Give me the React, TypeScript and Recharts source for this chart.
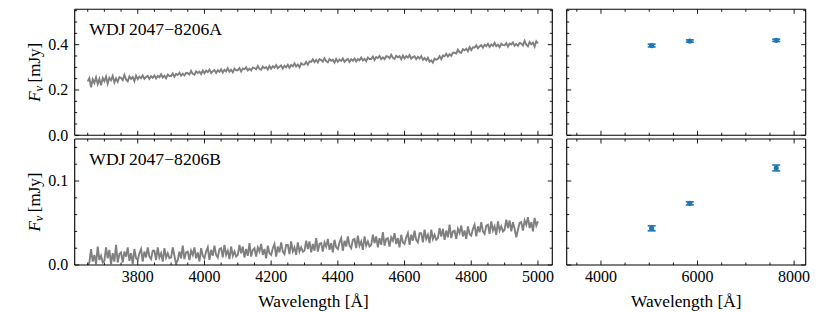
import React from 'react';
import { ComposedChart, Line, Scatter, ErrorBar, XAxis, YAxis } from 'recharts';

// ---------------- data ----------------
const WL_START = 3650;
const WL_STEP = 5;

const FLUX_A = [
  0.238, 0.252, 0.212, 0.247, 0.231, 0.256, 0.226, 0.249, 0.221, 0.253,
  0.239, 0.259, 0.228, 0.254, 0.243, 0.262, 0.233, 0.251, 0.236, 0.257,
  0.253, 0.243, 0.266, 0.246, 0.238, 0.260, 0.249, 0.257, 0.239, 0.263,
  0.248, 0.259, 0.252, 0.264, 0.249, 0.257, 0.262, 0.249, 0.261, 0.254,
  0.264, 0.251, 0.262, 0.256, 0.269, 0.255, 0.263, 0.252, 0.268, 0.262,
  0.262, 0.273, 0.258, 0.271, 0.266, 0.276, 0.263, 0.272, 0.264, 0.276,
  0.274, 0.268, 0.284, 0.271, 0.267, 0.282, 0.275, 0.281, 0.270, 0.286,
  0.274, 0.285, 0.279, 0.290, 0.275, 0.283, 0.288, 0.275, 0.287, 0.280,
  0.291, 0.277, 0.289, 0.282, 0.296, 0.281, 0.289, 0.278, 0.294, 0.287,
  0.287, 0.297, 0.282, 0.295, 0.291, 0.300, 0.286, 0.294, 0.286, 0.299,
  0.297, 0.291, 0.306, 0.293, 0.289, 0.303, 0.296, 0.301, 0.290, 0.306,
  0.294, 0.305, 0.298, 0.310, 0.296, 0.302, 0.308, 0.295, 0.307, 0.300,
  0.311, 0.298, 0.310, 0.304, 0.317, 0.304, 0.312, 0.300, 0.318, 0.312,
  0.312, 0.324, 0.311, 0.326, 0.324, 0.335, 0.323, 0.333, 0.322, 0.336,
  0.332, 0.325, 0.340, 0.327, 0.322, 0.336, 0.329, 0.334, 0.321, 0.337,
  0.324, 0.334, 0.328, 0.339, 0.324, 0.332, 0.337, 0.324, 0.336, 0.329,
  0.339, 0.326, 0.337, 0.331, 0.343, 0.330, 0.337, 0.327, 0.343, 0.337,
  0.337, 0.347, 0.332, 0.345, 0.341, 0.350, 0.336, 0.344, 0.336, 0.349,
  0.347, 0.340, 0.355, 0.342, 0.337, 0.351, 0.344, 0.349, 0.336, 0.352,
  0.339, 0.349, 0.343, 0.354, 0.338, 0.345, 0.349, 0.336, 0.347, 0.339,
  0.349, 0.333, 0.341, 0.331, 0.342, 0.325, 0.331, 0.321, 0.338, 0.334,
  0.337, 0.349, 0.336, 0.352, 0.349, 0.360, 0.348, 0.358, 0.350, 0.364,
  0.364, 0.361, 0.378, 0.367, 0.364, 0.380, 0.375, 0.382, 0.371, 0.389,
  0.376, 0.388, 0.387, 0.397, 0.384, 0.392, 0.398, 0.387, 0.400, 0.393,
  0.404, 0.390, 0.401, 0.394, 0.408, 0.393, 0.400, 0.389, 0.404, 0.398,
  0.397, 0.407, 0.391, 0.405, 0.401, 0.410, 0.395, 0.403, 0.395, 0.408,
  0.405, 0.396, 0.417, 0.400, 0.393, 0.412, 0.402, 0.409, 0.392, 0.415,
  0.406,
];

const FLUX_B = [
  0.000, 0.003, 0.019, 0.004, 0.012, 0.001, 0.022, 0.006, 0.011, 0.003,
  0.005, 0.021, 0.008, 0.018, 0.001, 0.014, 0.004, 0.024, 0.003, 0.013,
  0.015, 0.003, 0.016, 0.010, 0.021, 0.005, 0.014, 0.001, 0.019, 0.008,
  0.006, 0.014, 0.019, 0.004, 0.016, 0.009, 0.021, 0.010, 0.007, 0.017,
  0.017, 0.006, 0.021, 0.009, 0.014, 0.004, 0.020, 0.009, 0.014, 0.008,
  0.009, 0.021, 0.011, 0.001, 0.006, 0.016, 0.008, 0.023, 0.007, 0.015,
  0.016, 0.006, 0.017, 0.012, 0.021, 0.008, 0.015, 0.004, 0.020, 0.011,
  0.008, 0.016, 0.021, 0.006, 0.018, 0.011, 0.023, 0.012, 0.009, 0.019,
  0.020, 0.009, 0.024, 0.012, 0.017, 0.007, 0.022, 0.011, 0.016, 0.010,
  0.012, 0.024, 0.014, 0.022, 0.009, 0.019, 0.011, 0.026, 0.010, 0.018,
  0.020, 0.010, 0.021, 0.016, 0.025, 0.012, 0.019, 0.008, 0.023, 0.014,
  0.012, 0.020, 0.025, 0.010, 0.022, 0.015, 0.027, 0.016, 0.013, 0.024,
  0.024, 0.013, 0.028, 0.016, 0.021, 0.012, 0.027, 0.016, 0.021, 0.016,
  0.017, 0.029, 0.019, 0.028, 0.015, 0.025, 0.017, 0.032, 0.016, 0.025,
  0.026, 0.016, 0.027, 0.022, 0.031, 0.018, 0.026, 0.015, 0.030, 0.021,
  0.019, 0.027, 0.032, 0.017, 0.029, 0.022, 0.034, 0.023, 0.020, 0.030,
  0.031, 0.020, 0.035, 0.023, 0.028, 0.018, 0.034, 0.023, 0.028, 0.022,
  0.024, 0.036, 0.026, 0.034, 0.021, 0.032, 0.024, 0.039, 0.023, 0.031,
  0.032, 0.022, 0.033, 0.029, 0.038, 0.025, 0.032, 0.021, 0.036, 0.027,
  0.025, 0.033, 0.038, 0.024, 0.036, 0.029, 0.041, 0.030, 0.027, 0.038,
  0.038, 0.027, 0.042, 0.031, 0.036, 0.026, 0.042, 0.031, 0.036, 0.030,
  0.032, 0.044, 0.034, 0.043, 0.030, 0.041, 0.033, 0.048, 0.032, 0.040,
  0.041, 0.031, 0.043, 0.038, 0.047, 0.034, 0.041, 0.031, 0.046, 0.037,
  0.035, 0.043, 0.048, 0.034, 0.046, 0.039, 0.051, 0.040, 0.037, 0.047,
  0.048, 0.037, 0.052, 0.041, 0.046, 0.036, 0.052, 0.041, 0.046, 0.040,
  0.042, 0.054, 0.044, 0.053, 0.040, 0.051, 0.043, 0.033, 0.042, 0.050,
  0.051, 0.041, 0.053, 0.048, 0.057, 0.044, 0.051, 0.040, 0.056, 0.047,
  0.052,
];

const PHOT_WL = [5050, 5840, 7630];
const PHOT_A = [0.396, 0.416, 0.419];
const PHOT_A_ERR = [0.006, 0.005, 0.005];
const PHOT_B = [0.0437, 0.0734, 0.1155];
const PHOT_B_ERR = [0.003, 0.0018, 0.0035];

const TITLE_A = 'WDJ\u20092047\u22128206A';
const TITLE_B = 'WDJ\u20092047\u22128206B';

// ---------------- axes ----------------
const range = (a: number, b: number, s: number) => {
  const out: number[] = [];
  for (let i = 0; a + i * s <= b + 1e-9; i++) out.push(Math.round((a + i * s) * 1e6) / 1e6);
  return out;
};

const SPEC_X_DOMAIN = [3611, 5043];
const SPEC_X_MAJOR = [3800, 4000, 4200, 4400, 4600, 4800, 5000];
const SPEC_X_TICKS = range(3650, 5000, 50);
const PHOT_X_DOMAIN = [3290, 8240];
const PHOT_X_MAJOR = [4000, 6000, 8000];
const PHOT_X_TICKS = range(3500, 8000, 500);
const A_Y_DOMAIN = [0, 0.556];
const A_Y_MAJOR = [0, 0.2, 0.4];
const A_Y_TICKS = range(0, 0.55, 0.05);
const B_Y_DOMAIN = [0, 0.15];
const B_Y_MAJOR = [0, 0.1];
const B_Y_TICKS = range(0, 0.14, 0.02);

const specA = FLUX_A.map((f, i) => ({ wl: WL_START + i * WL_STEP, f }));
const specB = FLUX_B.map((f, i) => ({ wl: WL_START + i * WL_STEP, f }));
const photA = PHOT_WL.map((wl, i) => ({ wl, f: PHOT_A[i], err: PHOT_A_ERR[i] }));
const photB = PHOT_WL.map((wl, i) => ({ wl, f: PHOT_B[i], err: PHOT_B_ERR[i] }));

// ---------------- layout ----------------
const W = 830;
const H = 312;
const FONT = "'Liberation Serif', 'DejaVu Serif', serif";
const FS = 16;
const YW = 45;
const RW = 8;
const TH = 4;
const BH = 30;
const SPEC_GRAY = '#808080';
const BLUE = '#1f77b4';
const TXT: React.CSSProperties = { fontFamily: FONT, fontSize: FS };

type Rect = { x0: number; x1: number; y0: number; y1: number };
const LEFT = { x0: 74.7, x1: 552.3 };
const RIGHT = { x0: 566.7, x1: 805.7 };
const TOP = { y0: 9.3, y1: 135.3 };
const BOT = { y0: 139, y1: 265 };
const R_TL: Rect = { ...LEFT, ...TOP };
const R_BL: Rect = { ...LEFT, ...BOT };
const R_TR: Rect = { ...RIGHT, ...TOP };
const R_BR: Rect = { ...RIGHT, ...BOT };

type Side = 'bottom' | 'top' | 'left' | 'right';
const fmtInt = (v: number) => String(Math.round(v));
const fmtA = (v: number) => v.toFixed(1);

function makeTick(side: Side, majors: number[], fmt?: (v: number) => string) {
  return (props: any) => {
    const { x, y, payload } = props;
    const v = payload.value as number;
    const major = majors.some((m) => Math.abs(m - v) < 1e-6);
    const len = major ? 4.5 : 2.5;
    let l = { x1: x, y1: y, x2: x, y2: y };
    if (side === 'bottom') l = { x1: x, y1: y, x2: x, y2: y - len };
    if (side === 'top') l = { x1: x, y1: y, x2: x, y2: y + len };
    if (side === 'left') l = { x1: x, y1: y, x2: x + len, y2: y };
    if (side === 'right') l = { x1: x, y1: y, x2: x - len, y2: y };
    let label: React.ReactNode = null;
    if (fmt && major) {
      if (side === 'bottom')
        label = (
          <text x={x} y={y + 17} textAnchor="middle" style={TXT} fill="#000">
            {fmt(v)}
          </text>
        );
      if (side === 'left')
        label = (
          <text x={x - 6.4} y={y + 5.4} textAnchor="end" style={TXT} fill="#000">
            {fmt(v)}
          </text>
        );
    }
    return (
      <g>
        <line {...l} stroke="#000" strokeWidth={0.9} />
        {label}
      </g>
    );
  };
}

const AXIS_LINE = { stroke: '#000', strokeWidth: 1.1 };

function Panel(props: {
  rect: Rect;
  xDomain: number[];
  xTicks: number[];
  xMajor: number[];
  yDomain: number[];
  yTicks: number[];
  yMajor: number[];
  xLabels: boolean;
  yLabels: boolean;
  children: React.ReactNode;
}) {
  const { rect } = props;
  const margin = {
    left: rect.x0 - YW,
    right: W - rect.x1 - RW,
    top: rect.y0 - TH,
    bottom: H - rect.y1 - BH,
  };
  return (
    <div style={{ position: 'absolute', left: 0, top: 0 }}>
      <ComposedChart width={W} height={H} margin={margin}>
        <XAxis
          xAxisId="b"
          orientation="bottom"
          type="number"
          dataKey="wl"
          domain={props.xDomain}
          ticks={props.xTicks}
          interval={0}
          allowDataOverflow
          height={BH}
          tickSize={0}
          tickMargin={0}
          tickLine={false}
          axisLine={AXIS_LINE}
          tick={makeTick('bottom', props.xMajor, props.xLabels ? fmtInt : undefined)}
        />
        <XAxis
          xAxisId="t"
          orientation="top"
          type="number"
          dataKey="wl"
          domain={props.xDomain}
          ticks={props.xTicks}
          interval={0}
          allowDataOverflow
          height={TH}
          tickSize={0}
          tickMargin={0}
          tickLine={false}
          axisLine={AXIS_LINE}
          tick={makeTick('top', props.xMajor)}
        />
        <YAxis
          yAxisId="l"
          orientation="left"
          type="number"
          domain={props.yDomain}
          ticks={props.yTicks}
          interval={0}
          allowDataOverflow
          width={YW}
          tickSize={0}
          tickMargin={0}
          tickLine={false}
          axisLine={AXIS_LINE}
          tick={makeTick('left', props.yMajor, props.yLabels ? fmtA : undefined)}
        />
        <YAxis
          yAxisId="r"
          orientation="right"
          type="number"
          domain={props.yDomain}
          ticks={props.yTicks}
          interval={0}
          allowDataOverflow
          width={RW}
          tickSize={0}
          tickMargin={0}
          tickLine={false}
          axisLine={AXIS_LINE}
          tick={makeTick('right', props.yMajor)}
        />
        {props.children}
      </ComposedChart>
    </div>
  );
}

const dotShape = (p: any) => <circle cx={p.cx} cy={p.cy} r={2.6} fill={BLUE} />;

function Texts() {
  const yLab = (r: Rect) => {
    const cx = r.x0 - 35;
    const cy = (r.y0 + r.y1) / 2;
    return (
      <text x={cx} y={cy} transform={`rotate(-90 ${cx} ${cy})`} textAnchor="middle" style={{ ...TXT, fontSize: 17 }} fill="#000">
        <tspan fontStyle="italic">F</tspan>
        <tspan fontStyle="italic" fontSize={12.5} dy={3}>
          ν
        </tspan>
        <tspan dy={-3}>{'\u2009[mJy]'}</tspan>
      </text>
    );
  };
  const xLab = (r: Rect) => (
    <text x={(r.x0 + r.x1) / 2} y={r.y1 + 41.5} textAnchor="middle" style={{ ...TXT, fontSize: 17.3 }} fill="#000">
      Wavelength [Å]
    </text>
  );
  const title = (r: Rect, s: string) => (
    <text x={r.x0 + 14.6} y={r.y0 + 25.8} style={{ ...TXT, fontSize: 17.6 }} fill="#000">
      {s}
    </text>
  );
  return (
    <svg width={W} height={H} style={{ position: 'absolute', left: 0, top: 0, pointerEvents: 'none' }}>
      {yLab(R_TL)}
      {yLab(R_BL)}
      {xLab(R_BL)}
      {xLab(R_BR)}
      {title(R_TL, TITLE_A)}
      {title(R_BL, TITLE_B)}
    </svg>
  );
}

export default function App() {
  return (
    <div style={{ position: 'absolute', left: 0, top: 0, width: W, height: H, background: '#fff' }}>
      <Panel
        rect={R_TL}
        xDomain={SPEC_X_DOMAIN}
        xTicks={SPEC_X_TICKS}
        xMajor={SPEC_X_MAJOR}
        yDomain={A_Y_DOMAIN}
        yTicks={A_Y_TICKS}
        yMajor={A_Y_MAJOR}
        xLabels={false}
        yLabels={true}
      >
        <Line
          xAxisId="b"
          yAxisId="l"
          data={specA}
          dataKey="f"
          stroke={SPEC_GRAY}
          strokeWidth={1.9}
          strokeLinejoin="miter"
          dot={false}
          isAnimationActive={false}
        />
      </Panel>
      <Panel
        rect={R_BL}
        xDomain={SPEC_X_DOMAIN}
        xTicks={SPEC_X_TICKS}
        xMajor={SPEC_X_MAJOR}
        yDomain={B_Y_DOMAIN}
        yTicks={B_Y_TICKS}
        yMajor={B_Y_MAJOR}
        xLabels={true}
        yLabels={true}
      >
        <Line
          xAxisId="b"
          yAxisId="l"
          data={specB}
          dataKey="f"
          stroke={SPEC_GRAY}
          strokeWidth={1.9}
          strokeLinejoin="miter"
          dot={false}
          isAnimationActive={false}
        />
      </Panel>
      <Panel
        rect={R_TR}
        xDomain={PHOT_X_DOMAIN}
        xTicks={PHOT_X_TICKS}
        xMajor={PHOT_X_MAJOR}
        yDomain={A_Y_DOMAIN}
        yTicks={A_Y_TICKS}
        yMajor={A_Y_MAJOR}
        xLabels={false}
        yLabels={false}
      >
        <Scatter xAxisId="b" yAxisId="l" data={photA} dataKey="f" shape={dotShape} isAnimationActive={false}>
          <ErrorBar dataKey="err" direction="y" width={4} stroke={BLUE} strokeWidth={1.6} />
        </Scatter>
      </Panel>
      <Panel
        rect={R_BR}
        xDomain={PHOT_X_DOMAIN}
        xTicks={PHOT_X_TICKS}
        xMajor={PHOT_X_MAJOR}
        yDomain={B_Y_DOMAIN}
        yTicks={B_Y_TICKS}
        yMajor={B_Y_MAJOR}
        xLabels={true}
        yLabels={false}
      >
        <Scatter xAxisId="b" yAxisId="l" data={photB} dataKey="f" shape={dotShape} isAnimationActive={false}>
          <ErrorBar dataKey="err" direction="y" width={4} stroke={BLUE} strokeWidth={1.6} />
        </Scatter>
      </Panel>
      <Texts />
    </div>
  );
}
